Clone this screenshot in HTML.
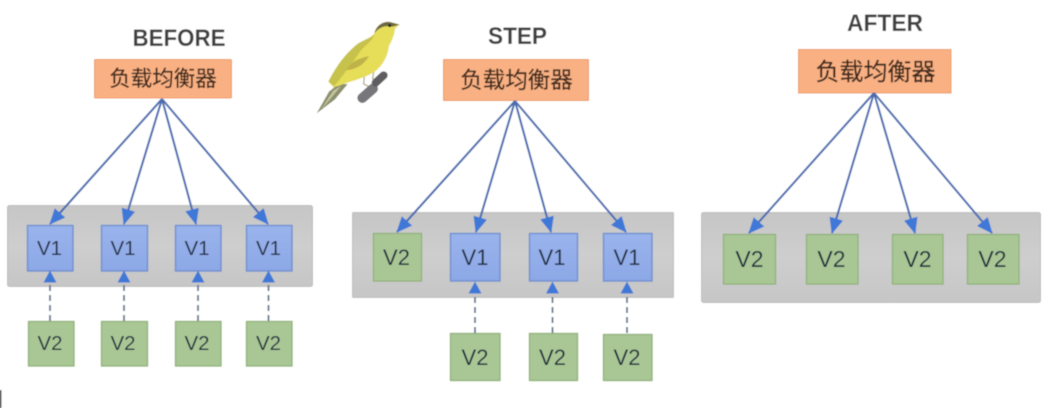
<!DOCTYPE html>
<html><head><meta charset="utf-8"><style>
html,body{margin:0;padding:0;background:#fff}
svg{display:block}
.t{font:bold 24.5px "Liberation Sans","DejaVu Sans",sans-serif;fill:#404040;text-anchor:middle}
.c{font-family:"Liberation Sans","Noto Sans CJK SC",sans-serif;fill:#40291c;stroke:#40291c;stroke-width:.25;text-anchor:middle}
.v{font-family:"Liberation Sans",sans-serif;fill:#1f2a3c;text-anchor:middle}
.g{fill:url(#gg);stroke:#bdbdbd}
.l{fill:#f9b183;stroke:#ee9a62}
.b{fill:url(#bg);stroke:#6f8fcf;stroke-width:1.400}
.n{fill:#a9c795;stroke:#93b37e;stroke-width:1.400}
.a{stroke:#4a6db0;stroke-width:2.100;fill:none}
.d{stroke:#6e7f99;stroke-width:2;stroke-dasharray:6 4;fill:none}
.h{fill:#3f78d8}
</style></head><body>
<svg width="1051" height="408" viewBox="0 0 1051 408" xmlns="http://www.w3.org/2000/svg">
<defs>
<marker id="m" markerUnits="userSpaceOnUse" markerWidth="16" markerHeight="14" refX="15" refY="7" orient="auto"><path d="M0 0L16 7L0 14Z" fill="#3f78d8"/></marker>
<linearGradient id="gg" x1="0" y1="0" x2="0" y2="1"><stop offset="0" stop-color="#c6c6c6"/><stop offset=".5" stop-color="#cecece"/><stop offset="1" stop-color="#c6c6c6"/></linearGradient>
<linearGradient id="bg" x1="0" y1="0" x2="0" y2="1"><stop offset="0" stop-color="#9ab3ec"/><stop offset="1" stop-color="#8ca8e6"/></linearGradient>
<filter id="s" x="0" y="0" width="100%" height="100%"><feGaussianBlur stdDeviation=".55"/></filter>
</defs>
<g filter="url(#s)">
<rect width="1051" height="408" fill="#fff"/>
<rect x="0" y="390" width="1.500" height="18" fill="#222"/>
<!-- BEFORE -->
<text class="t" x="179" y="46" textLength="93" lengthAdjust="spacingAndGlyphs">BEFORE</text>
<rect class="g" x="7.500" y="205.500" width="305" height="81" rx="2"/>
<rect class="l" x="94.500" y="59.500" width="137" height="38.500" rx="1"/>
<text class="c" x="163" y="86" font-size="21.500">负载均衡器</text>
<g class="a">
<line x1="162" y1="99" x2="50" y2="224" marker-end="url(#m)"/>
<line x1="162" y1="99" x2="124" y2="224" marker-end="url(#m)"/>
<line x1="162" y1="99" x2="196" y2="224" marker-end="url(#m)"/>
<line x1="162" y1="99" x2="268" y2="224" marker-end="url(#m)"/>
</g>
<rect class="b" x="27.500" y="225.500" width="45.500" height="45.500"/>
<rect class="b" x="101.500" y="225.500" width="46" height="45.500"/>
<rect class="b" x="175.500" y="225.500" width="45.500" height="45.500"/>
<rect class="b" x="246.500" y="225.500" width="45.500" height="45.500"/>
<g class="v" font-size="20.500"><text x="49.500" y="255">V1</text><text x="123" y="255">V1</text><text x="197" y="255">V1</text><text x="268.500" y="255">V1</text></g>
<path class="d" d="M50 321V283M124 321V283M198 321V283M268.500 321V283"/>
<path class="h" d="M50 270.500L56.500 282.500H43.500ZM124 270.500L130.500 282.500H117.500ZM198 270.500L204.500 282.500H191.500ZM268.500 270.500L275 282.500H262Z"/>
<rect class="n" x="28.500" y="321.500" width="45.500" height="44.500"/>
<rect class="n" x="101.500" y="321.500" width="46" height="44.500"/>
<rect class="n" x="175.500" y="321.500" width="45.500" height="44.500"/>
<rect class="n" x="246.500" y="321.500" width="45.500" height="44.500"/>
<g class="v" font-size="20.500"><text x="50" y="350">V2</text><text x="123" y="350">V2</text><text x="197" y="350">V2</text><text x="268.500" y="350">V2</text></g>
<!-- BIRD -->
<g transform="translate(305 10) scale(.3333)">
<path d="M35 310L72 245L100 222L128 222L90 268Z" fill="#8c8f6c"/>
<path d="M48 298L85 242L108 228L72 272Z" fill="#c4c4a0"/>
<path d="M178 200L176 222L196 232M206 186L203 206L216 214" stroke="#b3ad8f" stroke-width="4" fill="none"/>
<path d="M172 264L204 236" stroke="#77767a" stroke-width="30" stroke-linecap="round"/>
<path d="M212 218L236 196" stroke="#5e5d60" stroke-width="24" stroke-linecap="round"/>
<path d="M70 215C90 175 120 130 160 100C180 88 198 84 208 70C214 45 235 33 255 36L284 44L270 56C268 75 262 90 252 108C248 140 232 170 205 188C175 205 135 215 105 226L85 232Z" fill="#e6dd58"/>
<path d="M70 215C90 175 120 130 160 100C180 88 198 84 208 72C205 92 180 105 165 125C145 155 115 195 88 228Z" fill="#c6c24c"/>
<path d="M125 180C135 160 150 148 192 138C180 160 160 175 130 180Z" fill="#bfb24a"/>
<path d="M208 70C214 45 235 33 255 36L284 44L262 50C240 45 222 52 208 70Z" fill="#6d6a43"/>
<circle cx="254" cy="47" r="4.500" fill="#1c1c1c"/>
</g>
<!-- STEP -->
<text class="t" x="517.500" y="44" textLength="59" lengthAdjust="spacingAndGlyphs">STEP</text>
<rect class="g" x="352.500" y="212.500" width="321" height="85" rx="1"/>
<rect class="l" x="443.500" y="59.500" width="145" height="41"/>
<text class="c" x="516.500" y="88" font-size="22.500">负载均衡器</text>
<g class="a">
<line x1="515" y1="101" x2="397" y2="232" marker-end="url(#m)"/>
<line x1="515" y1="101" x2="476" y2="232" marker-end="url(#m)"/>
<line x1="515" y1="101" x2="551" y2="232" marker-end="url(#m)"/>
<line x1="515" y1="101" x2="626" y2="232" marker-end="url(#m)"/>
</g>
<rect class="n" x="373.500" y="233.500" width="48" height="47.500"/>
<rect class="b" x="450.500" y="233.500" width="49.500" height="47.500"/>
<rect class="b" x="529.500" y="233.500" width="48" height="47.500"/>
<rect class="b" x="603.500" y="233.500" width="48.500" height="47.500"/>
<g class="v" font-size="22"><text x="396.500" y="265">V2</text><text x="475" y="265">V1</text><text x="552" y="265">V1</text><text x="627" y="265">V1</text></g>
<path class="d" d="M475 333V294M552.500 333V294M627 333V294"/>
<path class="h" d="M475 281.500L481.500 293.500H468.500ZM552.500 281.500L559 293.500H546ZM627 281.500L633.500 293.500H620.500Z"/>
<rect class="n" x="450.500" y="333.500" width="49.500" height="47"/>
<rect class="n" x="529.500" y="333.500" width="48" height="47"/>
<rect class="n" x="603.500" y="334.500" width="48.500" height="46"/>
<g class="v" font-size="22"><text x="475" y="365">V2</text><text x="552.500" y="365">V2</text><text x="627" y="365">V2</text></g>
<!-- AFTER -->
<text class="t" x="885" y="31" textLength="76" lengthAdjust="spacingAndGlyphs">AFTER</text>
<rect class="g" x="701.500" y="212.500" width="339" height="90" rx="2"/>
<rect class="l" x="798.500" y="49.500" width="152.500" height="43.500"/>
<text class="c" x="875.500" y="80" font-size="24">负载均衡器</text>
<g class="a">
<line x1="874" y1="93" x2="749" y2="233" marker-end="url(#m)"/>
<line x1="874" y1="93" x2="832" y2="233" marker-end="url(#m)"/>
<line x1="874" y1="93" x2="915" y2="233" marker-end="url(#m)"/>
<line x1="874" y1="93" x2="992" y2="233" marker-end="url(#m)"/>
</g>
<rect class="n" x="723.500" y="234.500" width="52" height="49.500"/>
<rect class="n" x="806.500" y="234.500" width="51.500" height="49.500"/>
<rect class="n" x="892.500" y="234.500" width="50.500" height="49.500"/>
<rect class="n" x="967.500" y="234.500" width="51.500" height="49.500"/>
<g class="v" font-size="23"><text x="749.500" y="267">V2</text><text x="831.500" y="267">V2</text><text x="917.500" y="267">V2</text><text x="992.500" y="267">V2</text></g>
</g>
</svg>
</body></html>
